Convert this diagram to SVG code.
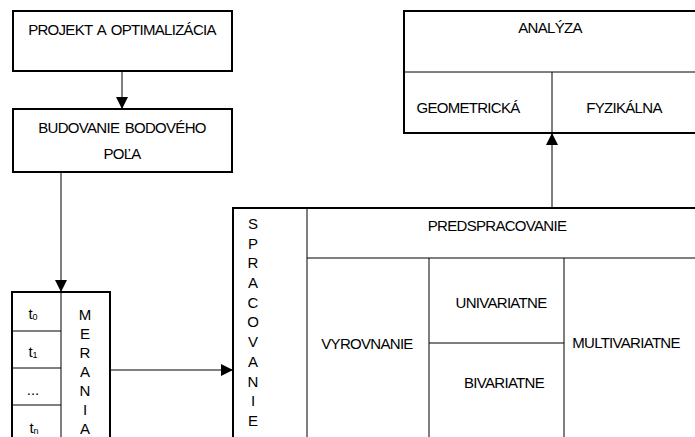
<svg xmlns="http://www.w3.org/2000/svg" width="695" height="437" viewBox="0 0 695 437">
<defs>
<style>
text{font-family:"Liberation Sans",Arial,sans-serif;font-size:15px;letter-spacing:-0.7px;word-spacing:2px;fill:#000;text-anchor:middle}
.v{letter-spacing:0}
.box{fill:#fff;stroke:#000;stroke-width:2}
.div{stroke:#000;stroke-width:1;fill:none}
.con{stroke:#000;stroke-width:1;fill:none;marker-end:url(#ah)}
.sub{font-size:9px}
</style>
<marker id="ah" viewBox="0 0 12 12" markerUnits="userSpaceOnUse" markerWidth="12" markerHeight="12" refX="12" refY="6" orient="auto">
<path d="M0,0 L12,6 L0,12 z" fill="#000"/>
</marker>
</defs>
<rect width="695" height="437" fill="#fff"/>

<g id="projekt">
<rect class="box" x="13" y="11" width="219" height="60"/>
<text x="122" y="35">PROJEKT A OPTIMALIZÁCIA</text>
</g>

<g id="budovanie">
<rect class="box" x="13" y="109" width="219" height="63"/>
<text x="122" y="133">BUDOVANIE BODOVÉHO</text>
<text x="122" y="159">POĽA</text>
</g>

<g id="analyza">
<rect class="box" x="404" y="11" width="300" height="122"/>
<line class="div" x1="404" y1="72" x2="695" y2="72"/>
<line class="div" x1="552" y1="72" x2="552" y2="133"/>
<text x="550" y="33">ANALÝZA</text>
<text x="468" y="113">GEOMETRICKÁ</text>
<text x="624" y="113">FYZIKÁLNA</text>
</g>

<g id="merania">
<rect class="box" x="12" y="292" width="98" height="160"/>
<line class="div" x1="61" y1="292" x2="61" y2="437"/>
<line class="div" x1="12" y1="331" x2="61" y2="331"/>
<line class="div" x1="12" y1="368" x2="61" y2="368"/>
<line class="div" x1="12" y1="405" x2="61" y2="405"/>
<text class="v" x="33" y="319">t<tspan class="sub" dy="1">0</tspan></text>
<text class="v" x="33" y="357">t<tspan class="sub" dy="1">1</tspan></text>
<text class="v" x="33" y="395">...</text>
<text class="v" x="34" y="433">t<tspan class="sub" dy="1">n</tspan></text>
<text class="v" x="85" y="320">M</text>
<text class="v" x="85" y="339">E</text>
<text class="v" x="85" y="358">R</text>
<text class="v" x="85" y="377">A</text>
<text class="v" x="85" y="396">N</text>
<text class="v" x="85" y="415">I</text>
<text class="v" x="85" y="434">A</text>
</g>

<g id="spracovanie">
<rect class="box" x="233" y="208" width="480" height="250"/>
<line class="div" x1="307" y1="208" x2="307" y2="437"/>
<line class="div" x1="307" y1="258" x2="695" y2="258"/>
<line class="div" x1="429" y1="258" x2="429" y2="437"/>
<line class="div" x1="564" y1="258" x2="564" y2="437"/>
<line class="div" x1="429" y1="343" x2="564" y2="343"/>
<text x="497" y="231">PREDSPRACOVANIE</text>
<text x="367" y="349">VYROVNANIE</text>
<text x="501" y="308">UNIVARIATNE</text>
<text x="504" y="388">BIVARIATNE</text>
<text x="626" y="348">MULTIVARIATNE</text>
<text class="v" x="253" y="229">S</text>
<text class="v" x="253" y="249">P</text>
<text class="v" x="253" y="268">R</text>
<text class="v" x="253" y="288">A</text>
<text class="v" x="253" y="308">C</text>
<text class="v" x="253" y="327">O</text>
<text class="v" x="253" y="347">V</text>
<text class="v" x="253" y="367">A</text>
<text class="v" x="253" y="387">N</text>
<text class="v" x="253" y="406">I</text>
<text class="v" x="253" y="426">E</text>
</g>

<g id="connectors">
<line class="con" x1="122" y1="71" x2="122" y2="109"/>
<line class="con" x1="61" y1="172" x2="61" y2="292"/>
<line class="con" x1="110" y1="370" x2="233" y2="370"/>
<line class="con" x1="552" y1="208" x2="552" y2="133"/>
</g>
</svg>
